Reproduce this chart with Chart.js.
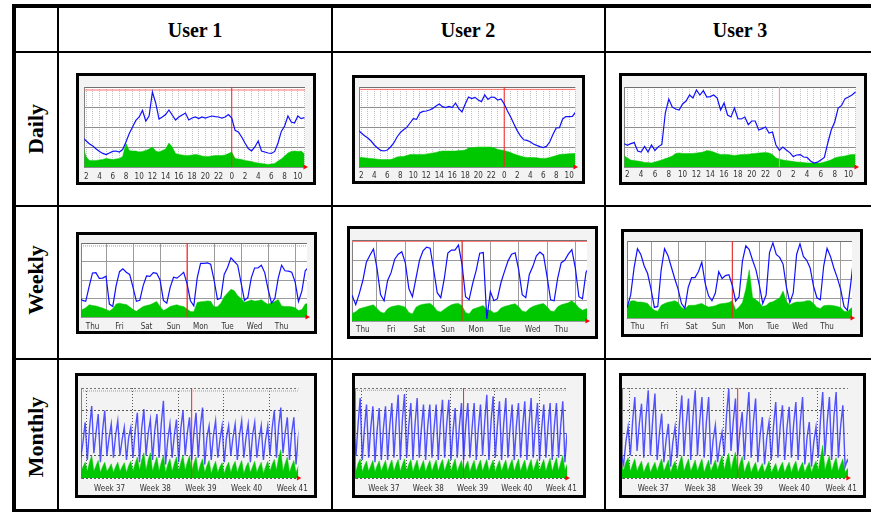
<!DOCTYPE html>
<html>
<head>
<meta charset="utf-8">
<title>Traffic per user</title>
<script src="https://cdn.jsdelivr.net/npm/chart.js@4.4.1/dist/chart.umd.min.js"></script>
<style>
html,body{margin:0;padding:0;background:#fff;}
#page{position:relative;width:871px;height:513px;overflow:hidden;background:#fff;}
.ln{position:absolute;background:#000;}
.hd{position:absolute;transform:translate(-50%,-50%);font:bold 20px 'Liberation Serif','Times New Roman',serif;line-height:20px;white-space:nowrap;color:#000;}
.rl{position:absolute;transform:translate(-50%,-50%) rotate(-90deg);font:bold 22px 'Liberation Serif','Times New Roman',serif;line-height:22px;white-space:nowrap;color:#000;}
.fr{position:absolute;box-sizing:border-box;border:3px solid #000;background:#f3f3f3;}
.fr canvas{position:absolute;left:0;top:0;}
</style>
</head>
<body>
<div id="page"></div>
<script>
// ---------- labels ----------
const users = ['User 1', 'User 2', 'User 3'];
const periods = ['Daily', 'Weekly', 'Monthly'];
const dailyTickLabels = ['2','4','6','8','10','12','14','16','18','20','22','0','2','4','6','8','10'];
const weekdayLabels = ['Thu','Fri','Sat','Sun','Mon','Tue','Wed','Thu'];
const weekLabels = ['Week 37','Week 38','Week 39','Week 40','Week 41'];

// sample timing (hours / days)
const hourStart = 1.5, hourStep = 0.5;      // daily: every 30 min
const dayStart = 0, dayStep = 0.125;        // weekly: every 3 h (days since Thu 0:00)
const monthStart = -1.25, monthStep = 1/3;  // monthly: every 8 h (days since start of week 37)

// ---------- Daily ----------
const dailyOutU1 = [1.45,1.3,1.15,1.05,0.9,0.78,0.68,0.62,0.7,0.78, 0.8,0.75,0.87,1.25,1.67,2.0,2.33,2.5,2.83,2.3,
  2.55,3.75,3.2,2.4,2.5,2.62,2.85,2.6,2.35,2.5, 2.6,2.7,2.35,2.45,2.5,2.42,2.5,2.45,2.5,2.55,
  2.52,2.5,2.45,2.5,2.62,2.45,1.83,1.75,1.5,1.2, 0.92,0.8,1.0,1.3,0.8,0.75,0.7,0.68,0.78,1.2,
  1.78,2.05,2.55,2.25,2.2,2.55,2.42,2.47];
const dailyInU1 = [1.0,0.5,0.33,0.33,0.33,0.35,0.38,0.42,0.4,0.37, 0.4,0.42,0.53,1.17,0.83,0.8,0.8,0.75,0.78,0.83,
  0.9,1.0,0.8,0.75,0.83,0.9,1.2,1.0,0.67,0.63, 0.6,0.58,0.58,0.6,0.63,0.6,0.55,0.53,0.53,0.55,
  0.57,0.57,0.58,0.6,0.67,0.75,0.42,0.4,0.37,0.33, 0.3,0.27,0.23,0.2,0.17,0.15,0.13,0.15,0.17,0.3,
  0.4,0.55,0.7,0.78,0.8,0.77,0.8,0.65];
const dailyOutU2 = [1.85,1.7,1.56,1.45,1.3,1.1,0.95,0.83,0.8,0.85, 1.0,1.2,1.5,1.72,1.86,1.98,2.2,2.42,2.38,2.7,
  2.78,2.8,2.85,2.93,3.05,3.15,3.02,2.97,3.03,2.97, 3.2,2.92,2.75,3.15,3.5,3.42,3.48,3.35,3.27,3.6,
  3.38,3.5,3.48,3.35,3.4,3.15,2.8,2.5,2.15,1.82, 1.55,1.36,1.33,1.26,1.15,1.08,1.02,0.97,1.03,1.25,
  1.62,1.95,1.97,2.4,2.52,2.52,2.53,2.75];
const dailyInU2 = [0.5,0.48,0.46,0.44,0.42,0.41,0.39,0.37,0.37,0.37, 0.37,0.43,0.5,0.52,0.53,0.57,0.62,0.63,0.63,0.63,
  0.63,0.64,0.68,0.7,0.73,0.78,0.8,0.8,0.8,0.8, 0.8,0.82,0.83,0.85,0.95,0.97,0.98,1.0,1.0,1.0,
  1.0,1.0,0.95,0.88,0.85,0.83,0.78,0.72,0.65,0.6, 0.55,0.5,0.48,0.47,0.47,0.46,0.44,0.42,0.44,0.48,
  0.52,0.57,0.62,0.64,0.65,0.66,0.67,0.67];
const dailyOutU3 = [1.17,1.08,1.17,1.22,0.8,0.75,1.03,0.75,1.1,0.83, 1.02,1.13,2.7,3.4,3.0,2.9,2.85,3.15,3.3,3.6,
  3.45,3.85,3.6,3.82,3.5,3.52,3.6,3.45,2.85,3.2, 2.6,2.5,2.95,2.42,2.4,2.5,2.12,2.3,2.3,1.85,
  1.92,2.0,1.7,1.75,1.1,0.83,1.0,0.85,0.72,0.52, 0.6,0.62,0.5,0.48,0.3,0.2,0.24,0.35,0.48,1.2,
  1.85,2.25,2.95,3.08,3.42,3.5,3.6,3.75];
const dailyInU3 = [0.58,0.45,0.35,0.32,0.3,0.27,0.23,0.22,0.2,0.25, 0.3,0.35,0.42,0.48,0.55,0.68,0.7,0.68,0.67,0.67,
  0.68,0.7,0.72,0.75,0.82,0.8,0.75,0.68,0.63,0.63, 0.63,0.6,0.58,0.6,0.63,0.63,0.64,0.66,0.68,0.7,
  0.71,0.73,0.7,0.63,0.45,0.4,0.35,0.32,0.3,0.27, 0.25,0.24,0.22,0.2,0.2,0.2,0.2,0.2,0.25,0.3,
  0.36,0.45,0.5,0.53,0.55,0.6,0.63,0.63];

// ---------- Weekly ----------
const weeklyOutU1 = [1.1,0.9,0.85,1.64,2.38,2.4,2.09,2.1, 2.2,0.7,0.57,1.7,2.45,2.6,2.42,2.3,
  1.6,0.85,0.9,1.7,2.22,2.2,2.4,2.36, 2.0,0.9,0.75,1.6,2.15,2.1,2.25,2.42,
  1.8,0.88,0.6,2.1,2.9,2.9,2.92,2.85, 2.0,0.95,1.02,2.3,2.68,3.2,3.0,2.8,
  1.85,0.9,1.05,2.1,2.65,2.65,2.8,2.4, 1.5,0.75,1.0,2.1,2.8,2.5,2.48,2.42,
  1.9,0.84,1.4,2.5,2.7];
const weeklyInU1 = [0.39,0.4,0.5,0.66,0.62,0.6,0.54,0.48, 0.4,0.32,0.45,0.7,0.75,0.7,0.68,0.55,
  0.4,0.31,0.45,0.57,0.62,0.66,0.75,0.84, 0.57,0.35,0.45,0.57,0.62,0.66,0.6,0.57,
  0.43,0.3,0.28,0.79,0.82,0.84,0.87,0.85, 0.55,0.55,0.75,1.1,1.3,1.5,1.42,1.15,
  1.0,0.8,0.85,0.92,0.86,0.88,0.93,0.8, 0.68,0.78,0.84,0.95,0.6,0.57,0.57,0.55,
  0.5,0.35,0.4,0.7,0.75];
const weeklyOutU2 = [1.4,1.25,0.8,1.35,2.0,2.9,3.25,3.56, 2.6,1.3,1.0,2.0,2.4,3.05,3.3,3.42,
  2.87,1.6,1.2,2.1,3.0,3.47,3.65,3.6, 2.53,1.4,1.15,2.1,3.35,3.5,3.5,3.75,
  2.8,1.2,1.05,1.85,2.5,3.35,3.38,0.1, 1.45,1.0,1.1,1.9,2.45,2.97,3.3,3.37,
  2.53,1.3,1.15,2.3,2.7,3.22,3.4,3.25, 2.2,1.05,1.0,2.1,2.88,3.0,3.3,3.52,
  2.6,1.2,1.1,2.4,2.7];
const weeklyInU2 = [0.35,0.37,0.46,0.6,0.66,0.7,0.75,0.8, 0.62,0.45,0.38,0.6,0.7,0.74,0.78,0.74,
  0.68,0.42,0.35,0.68,0.78,0.83,0.85,0.87, 0.73,0.5,0.45,0.58,0.7,0.8,0.85,0.87,
  0.75,0.42,0.35,0.58,0.64,0.7,0.76,0.55, 0.53,0.4,0.45,0.64,0.72,0.76,0.82,0.85,
  0.7,0.5,0.45,0.62,0.72,0.78,0.83,0.86, 0.7,0.5,0.47,0.7,0.8,0.85,0.9,1.0,
  0.85,0.65,0.53,0.6,0.62];
const weeklyOutU3 = [0.6,0.57,1.2,2.6,3.6,3.3,2.7,2.31, 1.5,0.55,0.6,2.49,3.6,3.25,2.65,2.05,
  1.5,0.75,0.5,1.6,2.1,2.1,2.4,2.9, 1.8,1.15,0.89,1.3,2.4,2.05,2.2,2.25,
  1.7,0.88,1.1,2.95,3.75,3.55,3.0,2.5, 1.7,0.75,1.2,3.4,3.9,3.3,3.15,2.8,
  1.6,0.8,1.3,3.3,3.85,3.2,3.0,2.6, 1.65,1.05,0.95,2.7,3.62,3.2,2.6,2.1,
  1.5,0.6,0.4,1.8,3.4];
const weeklyInU3 = [0.55,0.57,0.88,0.9,0.83,0.83,0.8,0.75, 0.55,0.4,0.35,0.66,0.75,0.82,0.85,0.9,
  0.8,0.55,0.45,0.65,0.66,0.66,0.72,0.75, 0.65,0.57,0.6,0.63,0.72,0.75,0.77,0.8,
  0.9,0.42,0.57,0.8,1.5,2.5,1.05,0.95, 0.8,0.6,0.65,0.8,0.85,0.95,1.05,1.4,
  0.85,0.68,0.78,0.83,0.83,0.85,0.9,0.9, 0.75,0.55,0.5,0.63,0.66,0.66,0.64,0.6,
  0.55,0.35,0.33,0.5,0.6];

// ---------- Monthly ----------
const monthlyOutU1 = [1.5,
  0.9,1.6,2.47, 0.8,2.2,3.2, 1.1,2.0,2.84, 0.7,2.1,3.0, 1.0,1.8,2.4, 0.9,1.9,2.54, 1.0,1.7,2.25, 0.8,1.8,2.25,
  0.9,2.1,2.9, 0.7,2.2,3.06, 1.0,2.0,2.6, 0.8,2.1,2.84, 0.9,2.4,3.43, 0.6,1.7,2.4, 0.9,1.9,2.6,
  0.7,2.2,3.0, 1.0,2.0,2.7, 0.8,2.0,2.9, 0.9,2.3,3.13, 0.6,1.8,2.32, 0.8,1.9,2.54, 0.9,1.7,2.32,
  0.7,1.8,2.32, 1.0,1.8,2.4, 0.8,1.9,2.54, 0.9,1.8,2.4, 0.7,1.9,2.47, 0.9,1.7,2.32, 0.8,1.7,2.32,
  1.0,2.2,3.0, 0.9,2.3,3.13, 1.1,2.0,2.7, 0.8,2.0,2.7, 0.6,1.8,2.4];
const monthlyInU1 = [0.45,
  0.25,0.5,0.7, 0.3,0.7,1.0, 0.3,0.55,0.78, 0.25,0.5,0.7, 0.3,0.45,0.63, 0.25,0.5,0.7, 0.3,0.5,0.68, 0.25,0.55,0.74,
  0.3,0.65,0.93, 0.35,0.8,1.12, 0.35,0.8,1.12, 0.3,0.65,0.93, 0.3,0.7,1.0, 0.25,0.6,0.85, 0.3,0.65,0.93,
  0.3,0.7,1.0, 0.35,0.7,1.0, 0.3,0.65,0.93, 0.25,0.6,0.85, 0.25,0.55,0.78, 0.2,0.5,0.74, 0.25,0.5,0.68,
  0.2,0.5,0.7, 0.25,0.55,0.74, 0.25,0.55,0.78, 0.2,0.5,0.7, 0.25,0.5,0.74, 0.25,0.5,0.7, 0.2,0.5,0.74,
  0.3,0.6,0.82, 0.35,0.9,1.26, 0.3,0.65,0.93, 0.25,0.55,0.78, 0.25,0.5,0.7];
const monthlyOutU2 = [2.0,
  1.0,2.4,3.55, 0.8,2.2,3.26, 0.9,2.2,3.19, 0.7,2.1,3.11, 0.8,2.2,3.19, 0.8,2.3,3.33, 0.9,2.5,3.7, 0.8,2.6,3.73,
  0.9,2.3,3.33, 0.8,2.4,3.55, 0.9,2.2,3.26, 0.8,2.3,3.26, 0.9,2.2,3.26, 0.8,2.4,3.48, 0.9,2.4,3.48,
  0.8,2.1,3.11, 0.9,2.3,3.33, 0.8,2.3,3.33, 0.9,2.2,3.33, 0.8,2.2,3.26, 1.0,2.5,3.7, 0.8,2.5,3.63,
  0.9,2.3,3.41, 0.8,2.4,3.55, 0.9,2.2,3.26, 0.8,2.3,3.33, 0.9,2.3,3.41, 0.8,2.4,3.55, 0.9,2.3,3.33,
  0.8,2.2,3.26, 0.9,2.3,3.33, 0.8,2.3,3.33, 0.9,2.3,3.41, 0.7,2.0,3.3];
const monthlyInU2 = [0.5,
  0.3,0.65,0.85, 0.28,0.55,0.75, 0.3,0.55,0.78, 0.28,0.55,0.76, 0.3,0.56,0.78, 0.28,0.58,0.8, 0.3,0.6,0.82, 0.3,0.6,0.85,
  0.3,0.6,0.82, 0.28,0.58,0.8, 0.3,0.56,0.78, 0.28,0.56,0.78, 0.3,0.58,0.8, 0.3,0.6,0.82, 0.3,0.6,0.85,
  0.3,0.6,0.85, 0.28,0.56,0.78, 0.3,0.56,0.76, 0.28,0.56,0.78, 0.3,0.58,0.8, 0.3,0.6,0.82, 0.3,0.58,0.8,
  0.28,0.56,0.78, 0.3,0.58,0.8, 0.3,0.6,0.82, 0.3,0.6,0.84, 0.3,0.58,0.8, 0.28,0.58,0.82, 0.3,0.6,0.85,
  0.3,0.6,0.82, 0.3,0.62,0.88, 0.3,0.62,0.9, 0.32,0.68,1.0, 0.35,0.6,0.8];
const monthlyOutU3 = [1.0,
  0.6,1.6,2.27, 1.0,2.5,3.6, 1.2,2.4,3.3, 0.9,2.7,3.9, 1.0,2.6,3.75, 0.8,2.0,2.86, 0.7,1.7,2.41, 0.5,1.6,2.27,
  0.9,2.5,3.67, 1.0,2.4,3.53, 0.8,2.7,3.9, 1.0,2.5,3.6, 0.9,2.5,3.6, 0.6,1.7,2.34, 0.7,1.5,2.04,
  1.0,2.8,3.97, 1.2,2.5,3.53, 1.0,2.1,2.93, 0.8,2.6,3.82, 0.9,2.5,3.53, 0.7,1.9,2.71, 0.6,1.8,2.49,
  0.8,2.3,3.38, 0.9,2.3,3.23, 0.8,2.2,3.16, 0.9,2.4,3.38, 0.8,2.5,3.6, 0.6,1.8,2.49, 0.5,1.6,2.27,
  0.9,2.6,3.82, 1.0,2.5,3.6, 0.8,2.7,3.82, 0.9,2.3,3.23, 0.5,0.8,0.6];
const monthlyInU3 = [0.5,
  0.35,0.7,0.9, 0.3,0.6,0.85, 0.3,0.55,0.75, 0.25,0.5,0.7, 0.25,0.5,0.7, 0.3,0.6,0.85, 0.3,0.55,0.8, 0.25,0.55,0.75,
  0.3,0.7,1.0, 0.3,0.6,0.85, 0.3,0.55,0.8, 0.3,0.6,0.85, 0.25,0.55,0.8, 0.3,0.55,0.8, 0.35,0.7,1.0,
  0.35,0.8,1.1, 0.35,0.8,1.15, 0.3,0.65,0.95, 0.25,0.55,0.75, 0.25,0.5,0.7, 0.25,0.45,0.65, 0.25,0.5,0.75,
  0.25,0.45,0.65, 0.25,0.5,0.7, 0.25,0.5,0.7, 0.25,0.55,0.75, 0.25,0.5,0.7, 0.25,0.5,0.7, 0.25,0.55,0.75,
  0.35,0.9,1.45, 0.35,0.7,1.0, 0.3,0.65,0.9, 0.3,0.6,0.85, 0.25,0.4,0.5];

// ---------- page layout ----------
const page = document.getElementById('page');
function box(cls, x, y, w, h) {
  const d = document.createElement('div');
  d.className = cls;
  Object.assign(d.style, {left: x + 'px', top: y + 'px', width: w + 'px', height: h + 'px'});
  page.appendChild(d);
  return d;
}
[[12,4,859,4],[12,4,4,508],[12,509,859,3],
 [57,4,2,508],[331,4,2,508],[604,4,2,508],
 [12,51,859,2],[12,205,859,2],[12,358,859,2]].forEach(r => box('ln', r[0], r[1], r[2], r[3]));

[195, 468, 740].forEach((cx, i) => {
  const d = document.createElement('div');
  d.className = 'hd'; d.textContent = users[i];
  d.style.left = cx + 'px'; d.style.top = '30px';
  page.appendChild(d);
});
[129, 280, 437].forEach((cy, i) => {
  const d = document.createElement('div');
  d.className = 'rl'; d.textContent = periods[i];
  d.style.left = '36px'; d.style.top = cy + 'px';
  page.appendChild(d);
});

// ---------- chart kinds ----------
const hourGrid = []; for (let h = 2; h <= 35; h++) hourGrid.push(h);
const KIND = {
  daily: {t0: hourStart, dt: hourStep, grid: hourGrid,
          labelAt: dailyTickLabels.map((_, i) => 2 + 2 * i), labels: dailyTickLabels, redV: 24,
          plotBg: '#ffffff', vColor: '#c2c2c2', vDash: [1, 1], hColor: '#8e8e8e', hDash: [],
          outColor: '#1010ff', outWidth: 1.2},
  weekly: {t0: dayStart, dt: dayStep, grid: [1,2,3,4,5,6,7,8],
          labelAt: weekdayLabels.map((_, i) => 0.5 + i), labels: weekdayLabels, redV: 4,
          plotBg: '#ffffff', vColor: '#9c9c9c', vDash: [], hColor: '#9c9c9c', hDash: [],
          outColor: '#1010ff', outWidth: 1.2},
  monthly: {t0: monthStart, dt: monthStep, grid: [0,7,14,21,28],
          labelAt: weekLabels.map((_, i) => 3.5 + 7 * i), labels: weekLabels, redV: 16.08,
          plotBg: '#f3f3f3', vColor: '#555555', vDash: [1, 2], hColor: '#555555', hDash: [2, 2],
          outColor: 'rgba(40,40,255,0.8)', outWidth: 1.4}
};

const cells = [
  {kind:'daily',   frame:[76,73,240,112],  plot:[79,87,305,167],   xr:[1.70,35.08], out:dailyOutU1, inn:dailyInU1, redH:3.85, redDash:[], lp:5},
  {kind:'daily',   frame:[352,75,233,109], plot:[359,87,575,167],  xr:[1.69,34.9],  out:dailyOutU2, inn:dailyInU2, redH:3.88, redDash:[], lp:4},
  {kind:'daily',   frame:[619,73,248,112], plot:[623,87,856,167],  xr:[1.57,35.08], out:dailyOutU3, inn:dailyInU3, redH:null, redDash:[], lp:3, redC:'#ff9090'},
  {kind:'weekly',  frame:[76,232,241,102], plot:[81,243,307,317],  xr:[0.074,8.44], out:weeklyOutU1, inn:weeklyInU1, redH:3.84, redDash:[1,1], lp:5},
  {kind:'weekly',  frame:[347,226,251,113],plot:[352,240,587,321], xr:[0.118,8.41], out:weeklyOutU2, inn:weeklyInU2, redH:3.93, redDash:[], lp:4},
  {kind:'weekly',  frame:[621,229,242,108],plot:[627,241,852,318], xr:[0.114,8.42], out:weeklyOutU3, inn:weeklyInU3, redH:null, redDash:[], lp:4},
  {kind:'monthly', frame:[75,373,242,125], plot:[81,388,306,478],  xr:[-0.89,32.44], out:monthlyOutU1, inn:monthlyInU1, redH:3.87, redDash:[1,1], lp:6},
  {kind:'monthly', frame:[352,373,234,125],plot:[355,388,574,478], xr:[-1.07,32.4],  out:monthlyOutU2, inn:monthlyInU2, redH:3.9, redDash:[1,1], lp:6},
  {kind:'monthly', frame:[619,373,247,125],plot:[622,388,854,478], xr:[-1.16,32.5],  out:monthlyOutU3, inn:monthlyInU3, redH:null, redDash:[], lp:6}
];

const plotBg = {
  id: 'plotBg',
  beforeDraw(chart, args, opts) {
    const a = chart.chartArea, ctx = chart.ctx;
    ctx.save(); ctx.fillStyle = opts.color; ctx.fillRect(a.left, a.top, a.right - a.left, a.bottom - a.top); ctx.restore();
  }
};

function toXY(vals, t0, dt) { return vals.map((v, i) => ({x: t0 + i * dt, y: v})); }
const tickFont = {family: "'Liberation Sans Narrow','DejaVu Sans Condensed','DejaVu Sans',sans-serif", size: 8};

function build(c) {
  const k = KIND[c.kind];
  const [fx, fy, fw, fh] = c.frame;
  const [pl, pt, pr, pb] = c.plot;
  const fr = box('fr', fx, fy, fw, fh);
  const cw = fw - 6, ch = fh - 6;
  const cv = document.createElement('canvas');
  cv.width = cw; cv.height = ch; cv.style.width = cw + 'px'; cv.style.height = ch + 'px';
  fr.appendChild(cv);
  const pad = {left: pl - (fx + 3), top: pt - (fy + 3), right: (fx + fw - 3) - pr, bottom: 0};
  const bottomH = (fy + fh - 3) - pb;
  const [xmin, xmax] = c.xr;
  const ds = [];
  ds.push({type: 'line', data: toXY(c.out, k.t0, k.dt), borderColor: k.outColor, borderWidth: k.outWidth,
           pointRadius: 0, tension: 0, fill: false, order: 1});
  ds.push({type: 'line', data: [{x: k.redV, y: 0}, {x: k.redV, y: 4}], borderColor: c.redC || '#ff2020',
           borderWidth: 1, pointRadius: 0, fill: false, order: 2});
  if (c.redH !== null) {
    ds.push({type: 'line', data: [{x: xmin, y: c.redH}, {x: xmax, y: c.redH}], borderColor: '#ff7070',
             borderDash: c.redDash, borderWidth: 1, pointRadius: 0, fill: false, order: 2});
  }
  ds.push({type: 'line', data: toXY(c.inn, k.t0, k.dt), borderColor: '#00c800', backgroundColor: '#00c800',
           borderWidth: 0.5, pointRadius: 0, tension: 0, fill: 'origin', order: 3});
  ds.push({type: 'scatter', data: [{x: xmax, y: 0}], pointStyle: 'triangle', rotation: 90, pointRadius: 3,
           backgroundColor: '#ff0000', borderColor: '#ff0000', borderWidth: 0, clip: false, order: 0});

  new Chart(cv, {
    type: 'line',
    data: {datasets: ds},
    plugins: [plotBg],
    options: {
      responsive: false, animation: false, devicePixelRatio: 1,
      layout: {padding: pad, autoPadding: false},
      plugins: {legend: {display: false}, tooltip: {enabled: false}, plotBg: {color: k.plotBg}},
      events: [],
      scales: {
        x: {
          type: 'linear', position: 'bottom', min: xmin, max: xmax, weight: 2,
          afterBuildTicks: s => { s.ticks = k.grid.map(v => ({value: v})); },
          ticks: {display: false},
          grid: {color: k.vColor, lineWidth: 1, drawTicks: false},
          border: {display: true, color: '#222', width: 1, dash: k.vDash},
          afterFit: s => { s.height = 0; }
        },
        xl: {
          type: 'linear', position: 'bottom', min: xmin, max: xmax, weight: 1,
          afterBuildTicks: s => { s.ticks = k.labelAt.map(v => ({value: v})); },
          ticks: {display: true, autoSkip: false, maxRotation: 0, minRotation: 0, padding: c.lp,
                  font: tickFont, color: '#333', callback: (v, i) => k.labels[i]},
          grid: {display: false, drawTicks: false},
          border: {display: false},
          afterFit: s => { s.height = bottomH; }
        },
        y: {
          type: 'linear', min: 0, max: 4,
          afterBuildTicks: s => { s.ticks = [0,1,2,3,4].map(v => ({value: v})); },
          ticks: {display: false},
          grid: {drawTicks: false, lineWidth: 1,
                 color: ctx => (ctx.tick && ctx.tick.value === 4) ? '#707070' : k.hColor},
          border: {display: true, color: '#808080', width: 1, dash: k.hDash},
          afterFit: s => { s.width = 0; }
        }
      }
    }
  });
}
cells.forEach(build);
</script>
</body>
</html>
